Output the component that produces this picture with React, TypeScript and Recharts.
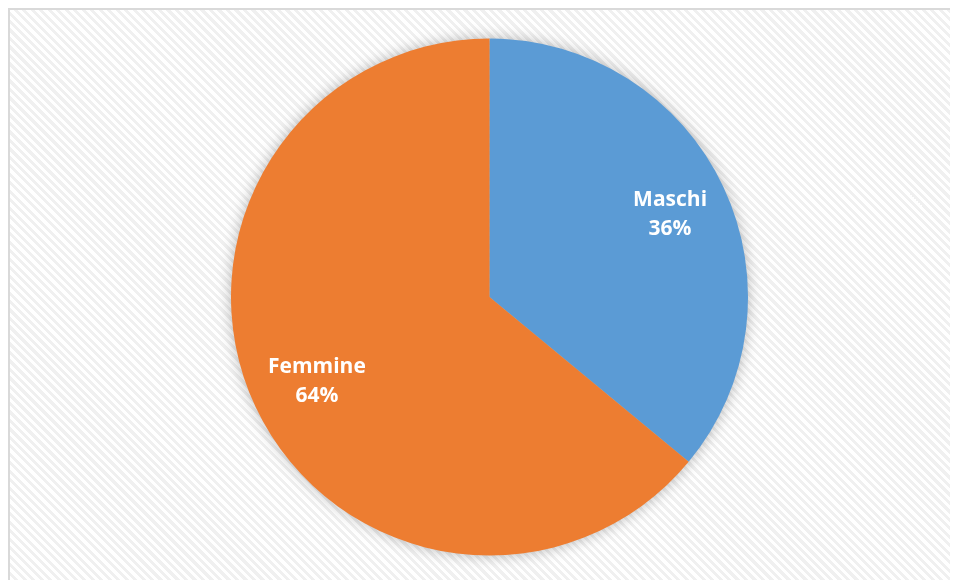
import React from "react";
import { PieChart, Pie, Cell } from "recharts";

const categories = ["Maschi", "Femmine"];
const values = [36, 64];
const colors = ["#5B9BD5", "#ED7D31"];

const data = categories.map((name, i) => ({ name, value: values[i] }));

const RAD = Math.PI / 180;

const renderLabel = (props: any) => {
  const { cx, cy, midAngle, outerRadius, name, percent } = props;
  const r = outerRadius * 0.755;
  const x = cx + r * Math.cos(-midAngle * RAD) + 4;
  const y = cy + r * Math.sin(-midAngle * RAD);
  return (
    <text
      x={x}
      y={y}
      fill="#ffffff"
      textAnchor="middle"
      fontFamily="'Open Sans', sans-serif"
      fontWeight="bold"
      fontSize={21}
    >
      <tspan x={x} dy={-7.5}>{name}</tspan>
      <tspan x={x} dy={29}>{`${Math.round(percent * 100)}%`}</tspan>
    </text>
  );
};

export default function App() {
  return (
    <>
      <style>{"html,body{overflow:hidden;}"}</style>
      <div
        style={{
          position: "relative",
          width: 960,
          height: 580,
          boxSizing: "border-box",
          borderTop: "2px solid #d9d9d9",
          borderLeft: "2px solid #d9d9d9",
          overflow: "hidden",
          background:
            "repeating-linear-gradient(45deg, #ffffff 0px, #ffffff 3px, #f0f0f0 3px, #f0f0f0 6px)",
        }}
      >
        <div style={{ filter: "drop-shadow(0px 0px 7px rgba(0,0,0,0.28))" }}>
          <PieChart width={958} height={578} margin={{ top: 0, right: 0, bottom: 0, left: 0 }}>
            <Pie
              data={data}
              dataKey="value"
              nameKey="name"
              cx={479.5}
              cy={287}
              outerRadius={258.5}
              innerRadius={0}
              startAngle={90}
              endAngle={-270}
              stroke="none"
              label={renderLabel}
              labelLine={false}
              isAnimationActive={false}
            >
              {data.map((d, i) => (
                <Cell key={d.name} fill={colors[i]} />
              ))}
            </Pie>
          </PieChart>
        </div>
      </div>
    </>
  );
}
